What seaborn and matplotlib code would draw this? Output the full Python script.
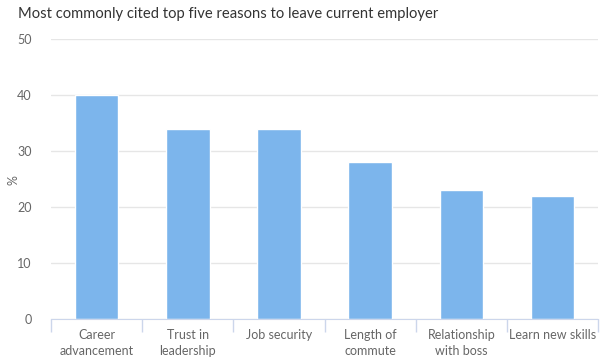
import numpy as np
import pandas as pd
import seaborn as sns
import matplotlib.pyplot as plt

categories = ['Career\nadvancement', 'Trust in\nleadership', 'Job security',
              'Length of\ncommute', 'Relationship\nwith boss', 'Learn new skills']
values = [40, 34, 34, 28, 23, 22]
yticks = [0, 10, 20, 30, 40, 50]

df = pd.DataFrame({'reason': categories, 'pct': values})

sns.set_style('white')
plt.rcParams['font.family'] = ['Lato', 'DejaVu Sans']

fig = plt.figure(figsize=(6, 3.6), dpi=100)
ax = fig.add_axes([0.085, 0.114, 0.912, 0.778])

sns.barplot(data=df, x='reason', y='pct', color='#7cb5ec', width=0.48,
            saturation=1, ax=ax, zorder=3)

ax.set_ylim(0, 50)
ax.set_xlim(-0.5, len(categories) - 0.5)
ax.set_yticks(yticks)
ax.yaxis.grid(True, color='#e6e6e6', linewidth=1, zorder=0)
for s in ['top', 'right', 'left']:
    ax.spines[s].set_visible(False)
ax.spines['bottom'].set_color('#ccd6eb')
ax.spines['bottom'].set_zorder(4)

ax.tick_params(axis='y', length=0, pad=14, labelsize=9, labelcolor='#666666')
ax.tick_params(axis='x', which='major', length=0, pad=7, labelsize=9, labelcolor='#666666')
ax.set_xticks(np.arange(-0.5, len(categories)), minor=True)
ax.tick_params(axis='x', which='minor', bottom=True, length=9, color='#ccd6eb', width=1)
for lab in ax.get_xticklabels():
    lab.set_linespacing(1.4)

ax.set_xlabel('')
ax.set_ylabel('')
fig.text(0.022, 0.5, '%', rotation=90, fontsize=9, color='#666666', va='center', ha='center')
fig.text(0.03, 0.962, 'Most commonly cited top five reasons to leave current employer',
         fontsize=10.6, color='#333333', va='center', ha='left')

fig.savefig('out.png', dpi=100)
